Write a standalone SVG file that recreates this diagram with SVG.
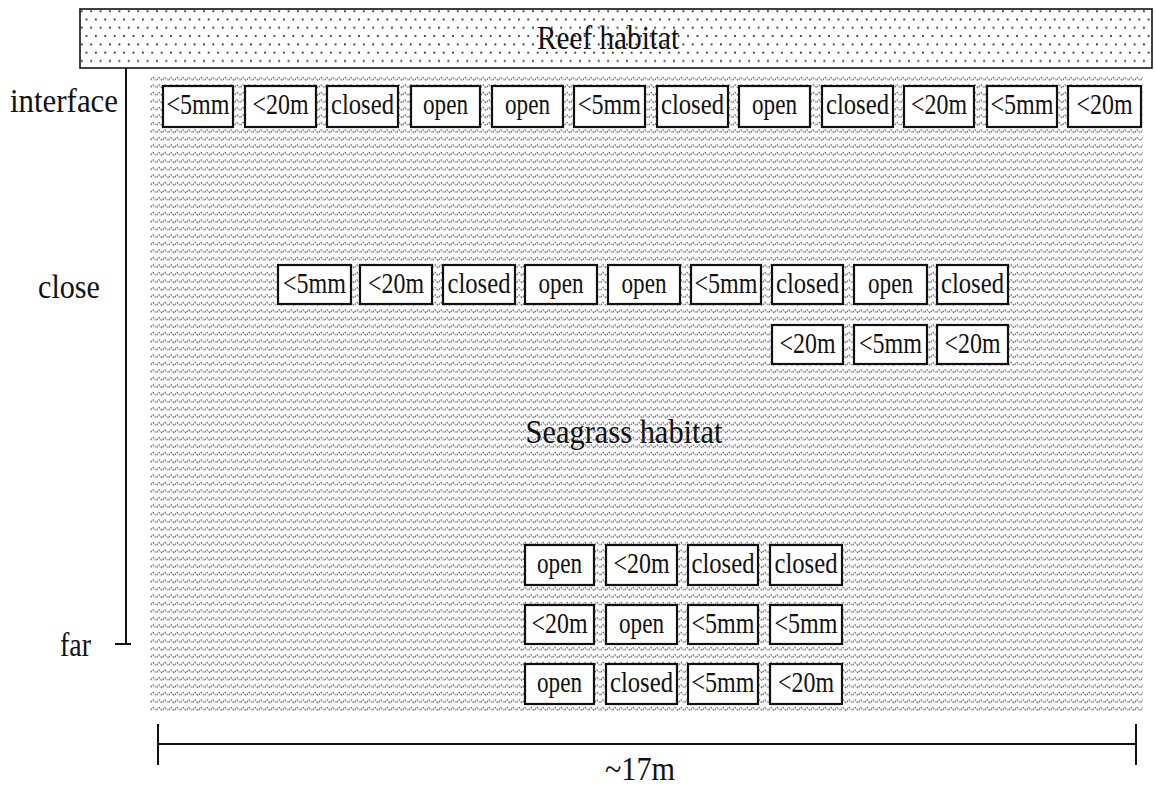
<svg xmlns="http://www.w3.org/2000/svg" width="1156" height="786" viewBox="0 0 1156 786">
<defs>
<pattern id="dots" width="9.4" height="16.6" patternUnits="userSpaceOnUse">
<rect x="1" y="2" width="1.7" height="1.7" fill="#111"/>
<rect x="5.7" y="10.3" width="1.7" height="1.7" fill="#111"/>
</pattern>
<pattern id="waves" width="12" height="7.5" patternUnits="userSpaceOnUse">
<path d="M0.5,5 L3,2.3 L6,5.5 L9,2.3 L11.5,5" fill="none" stroke="#4a4a4a" stroke-width="1" stroke-dasharray="2 1"/>
</pattern>
</defs>
<style>
.box{fill:#fff;stroke:#111;stroke-width:2.2}
.bt{font-family:"Liberation Serif","Times New Roman",serif;font-size:29px;fill:#111;text-anchor:middle}
.lbl{font-family:"Liberation Serif","Times New Roman",serif;font-size:33px;fill:#111}
.ln{stroke:#111;stroke-width:2;fill:none}
</style>
<rect width="1156" height="786" fill="#fff"/>
<g id="seagrass">
<rect x="150" y="77" width="993" height="637" fill="url(#waves)"/>
<text class="lbl" x="624" y="443" text-anchor="middle" textLength="197" lengthAdjust="spacingAndGlyphs">Seagrass habitat</text>
</g>
<g id="reef">
<rect x="80" y="9" width="1072" height="59" fill="url(#dots)" stroke="#111" stroke-width="1.6"/>
<text class="lbl" x="608" y="49" text-anchor="middle" textLength="142" lengthAdjust="spacingAndGlyphs">Reef habitat</text>
</g>
<g id="axis">
<path class="ln" d="M126,68 V644 M115,644 H131"/>
<text class="lbl" x="118" y="112" text-anchor="end" textLength="108" lengthAdjust="spacingAndGlyphs">interface</text>
<text class="lbl" x="100" y="298" text-anchor="end" textLength="62" lengthAdjust="spacingAndGlyphs">close</text>
<text class="lbl" x="91" y="656" text-anchor="end" textLength="31" lengthAdjust="spacingAndGlyphs">far</text>
</g>
<g id="scale">
<path class="ln" d="M158,744 H1136 M158,724 V765 M1136,724 V765"/>
<text class="lbl" x="640" y="780" text-anchor="middle" textLength="70" lengthAdjust="spacingAndGlyphs">~17m</text>
</g>
<g id="interface-row">
<g id="i1"><rect class="box" x="163" y="86" width="70" height="41"/><text class="bt" x="198" y="114" textLength="63" lengthAdjust="spacingAndGlyphs">&lt;5mm</text></g>
<g id="i2"><rect class="box" x="245" y="86" width="71" height="41"/><text class="bt" x="280.5" y="114" textLength="56" lengthAdjust="spacingAndGlyphs">&lt;20m</text></g>
<g id="i3"><rect class="box" x="327" y="86" width="71" height="41"/><text class="bt" x="362.5" y="114" textLength="63" lengthAdjust="spacingAndGlyphs">closed</text></g>
<g id="i4"><rect class="box" x="411" y="86" width="69" height="41"/><text class="bt" x="445.5" y="114" textLength="45" lengthAdjust="spacingAndGlyphs">open</text></g>
<g id="i5"><rect class="box" x="492" y="86" width="71" height="41"/><text class="bt" x="527.5" y="114" textLength="45" lengthAdjust="spacingAndGlyphs">open</text></g>
<g id="i6"><rect class="box" x="574" y="86" width="71" height="41"/><text class="bt" x="609.5" y="114" textLength="63" lengthAdjust="spacingAndGlyphs">&lt;5mm</text></g>
<g id="i7"><rect class="box" x="657" y="86" width="71" height="41"/><text class="bt" x="692.5" y="114" textLength="63" lengthAdjust="spacingAndGlyphs">closed</text></g>
<g id="i8"><rect class="box" x="739" y="86" width="71" height="41"/><text class="bt" x="774.5" y="114" textLength="45" lengthAdjust="spacingAndGlyphs">open</text></g>
<g id="i9"><rect class="box" x="822" y="86" width="71" height="41"/><text class="bt" x="857.5" y="114" textLength="63" lengthAdjust="spacingAndGlyphs">closed</text></g>
<g id="i10"><rect class="box" x="904" y="86" width="70" height="41"/><text class="bt" x="939" y="114" textLength="56" lengthAdjust="spacingAndGlyphs">&lt;20m</text></g>
<g id="i11"><rect class="box" x="987" y="86" width="70" height="41"/><text class="bt" x="1022" y="114" textLength="63" lengthAdjust="spacingAndGlyphs">&lt;5mm</text></g>
<g id="i12"><rect class="box" x="1068" y="86" width="73" height="41"/><text class="bt" x="1104.5" y="114" textLength="56" lengthAdjust="spacingAndGlyphs">&lt;20m</text></g>
</g>
<g id="close-row">
<g id="c1"><rect class="box" x="278" y="265" width="73" height="39"/><text class="bt" x="314.5" y="293" textLength="63" lengthAdjust="spacingAndGlyphs">&lt;5mm</text></g>
<g id="c2"><rect class="box" x="360" y="265" width="72" height="39"/><text class="bt" x="396" y="293" textLength="56" lengthAdjust="spacingAndGlyphs">&lt;20m</text></g>
<g id="c3"><rect class="box" x="443" y="265" width="72" height="39"/><text class="bt" x="479" y="293" textLength="63" lengthAdjust="spacingAndGlyphs">closed</text></g>
<g id="c4"><rect class="box" x="525" y="265" width="72" height="39"/><text class="bt" x="561" y="293" textLength="45" lengthAdjust="spacingAndGlyphs">open</text></g>
<g id="c5"><rect class="box" x="608" y="265" width="72" height="39"/><text class="bt" x="644" y="293" textLength="45" lengthAdjust="spacingAndGlyphs">open</text></g>
<g id="c6"><rect class="box" x="691" y="265" width="70" height="39"/><text class="bt" x="726" y="293" textLength="63" lengthAdjust="spacingAndGlyphs">&lt;5mm</text></g>
<g id="c7"><rect class="box" x="772" y="265" width="71" height="39"/><text class="bt" x="807.5" y="293" textLength="63" lengthAdjust="spacingAndGlyphs">closed</text></g>
<g id="c8"><rect class="box" x="854" y="265" width="73" height="39"/><text class="bt" x="890.5" y="293" textLength="45" lengthAdjust="spacingAndGlyphs">open</text></g>
<g id="c9"><rect class="box" x="937" y="265" width="71" height="39"/><text class="bt" x="972.5" y="293" textLength="63" lengthAdjust="spacingAndGlyphs">closed</text></g>
<g id="c10"><rect class="box" x="772" y="325" width="71" height="39"/><text class="bt" x="807.5" y="353" textLength="56" lengthAdjust="spacingAndGlyphs">&lt;20m</text></g>
<g id="c11"><rect class="box" x="854" y="325" width="73" height="39"/><text class="bt" x="890.5" y="353" textLength="63" lengthAdjust="spacingAndGlyphs">&lt;5mm</text></g>
<g id="c12"><rect class="box" x="937" y="325" width="71" height="39"/><text class="bt" x="972.5" y="353" textLength="56" lengthAdjust="spacingAndGlyphs">&lt;20m</text></g>
</g>
<g id="far-rows">
<g id="f1"><rect class="box" x="525" y="545" width="69" height="40"/><text class="bt" x="559.5" y="573" textLength="45" lengthAdjust="spacingAndGlyphs">open</text></g>
<g id="f2"><rect class="box" x="606" y="545" width="71" height="40"/><text class="bt" x="641.5" y="573" textLength="56" lengthAdjust="spacingAndGlyphs">&lt;20m</text></g>
<g id="f3"><rect class="box" x="688" y="545" width="70" height="40"/><text class="bt" x="723" y="573" textLength="63" lengthAdjust="spacingAndGlyphs">closed</text></g>
<g id="f4"><rect class="box" x="770" y="545" width="72" height="40"/><text class="bt" x="806" y="573" textLength="63" lengthAdjust="spacingAndGlyphs">closed</text></g>
<g id="f5"><rect class="box" x="525" y="605" width="69" height="39"/><text class="bt" x="559.5" y="633" textLength="56" lengthAdjust="spacingAndGlyphs">&lt;20m</text></g>
<g id="f6"><rect class="box" x="606" y="605" width="71" height="39"/><text class="bt" x="641.5" y="633" textLength="45" lengthAdjust="spacingAndGlyphs">open</text></g>
<g id="f7"><rect class="box" x="688" y="605" width="70" height="39"/><text class="bt" x="723" y="633" textLength="63" lengthAdjust="spacingAndGlyphs">&lt;5mm</text></g>
<g id="f8"><rect class="box" x="770" y="605" width="72" height="39"/><text class="bt" x="806" y="633" textLength="63" lengthAdjust="spacingAndGlyphs">&lt;5mm</text></g>
<g id="f9"><rect class="box" x="525" y="664" width="69" height="40"/><text class="bt" x="559.5" y="692" textLength="45" lengthAdjust="spacingAndGlyphs">open</text></g>
<g id="f10"><rect class="box" x="606" y="664" width="71" height="40"/><text class="bt" x="641.5" y="692" textLength="63" lengthAdjust="spacingAndGlyphs">closed</text></g>
<g id="f11"><rect class="box" x="688" y="664" width="70" height="40"/><text class="bt" x="723" y="692" textLength="63" lengthAdjust="spacingAndGlyphs">&lt;5mm</text></g>
<g id="f12"><rect class="box" x="770" y="664" width="72" height="40"/><text class="bt" x="806" y="692" textLength="56" lengthAdjust="spacingAndGlyphs">&lt;20m</text></g>
</g>
</svg>
